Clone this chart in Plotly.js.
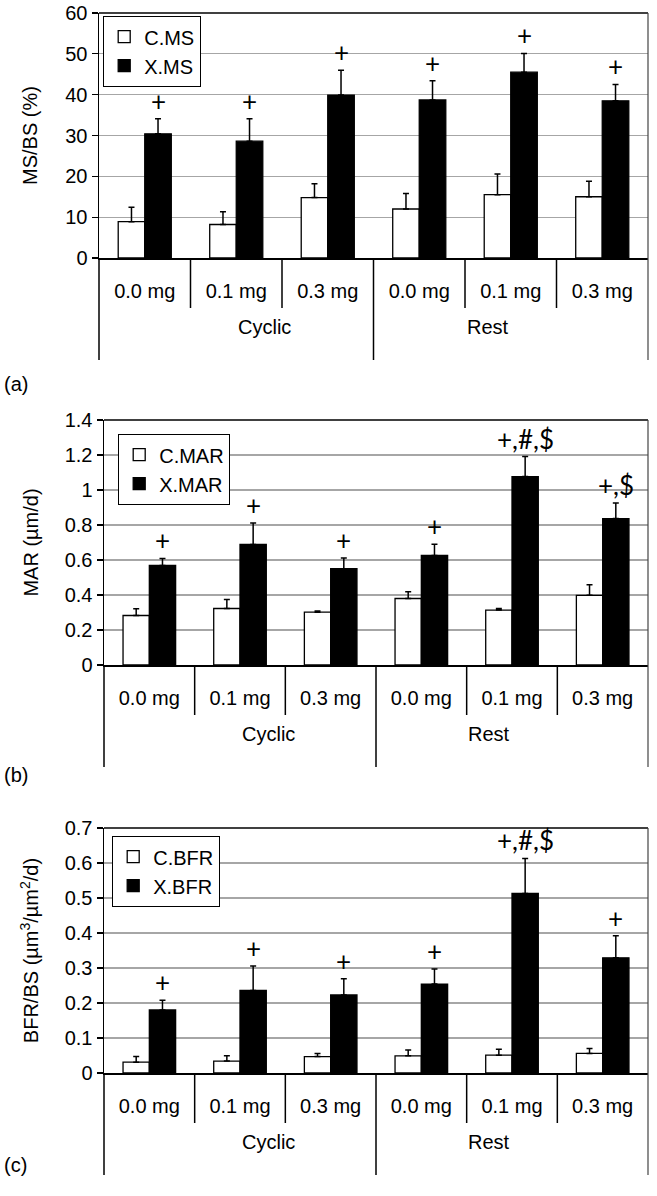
<!DOCTYPE html>
<html>
<head>
<meta charset="utf-8">
<script src="https://cdn.plot.ly/plotly-3.0.1.min.js"></script>
<style>html, body { margin: 0; padding: 0; background: #fff; }</style>
</head>
<body>
<div id="chart" style="width:657px;height:1196px;"></div>
<script>
var doses = ['0.0 mg', '0.1 mg', '0.3 mg', '0.0 mg', '0.1 mg', '0.3 mg'];
var groups = ['Cyclic', 'Rest'];

// (a) mineralizing surface
var msC = [8.9, 8.2, 14.8, 12.0, 15.5, 15.0];
var msCErr = [3.5, 3.1, 3.4, 3.8, 5.1, 3.8];
var msX = [30.4, 28.6, 39.9, 38.7, 45.5, 38.5];
var msXErr = [3.7, 5.5, 6.1, 4.7, 4.6, 4.0];
var msSig = ['+', '+', '+', '+', '+', '+'];

// (b) mineral apposition rate
var marC = [0.283, 0.323, 0.302, 0.380, 0.314, 0.398];
var marCErr = [0.038, 0.052, 0.006, 0.038, 0.009, 0.060];
var marX = [0.569, 0.689, 0.550, 0.626, 1.077, 0.837];
var marXErr = [0.040, 0.123, 0.061, 0.064, 0.114, 0.089];
var marSig = ['+', '+', '+', '+', '+,#,$', '+,$'];

// (c) bone formation rate
var bfrC = [0.031, 0.034, 0.047, 0.049, 0.051, 0.056];
var bfrCErr = [0.016, 0.015, 0.009, 0.017, 0.017, 0.014];
var bfrX = [0.180, 0.236, 0.223, 0.254, 0.513, 0.329];
var bfrXErr = [0.028, 0.070, 0.046, 0.043, 0.100, 0.063];
var bfrSig = ['+', '+', '+', '+', '+,#,$', '+'];

var W = 657, H = 1196;
var FONT = 'Liberation Sans, Arial, sans-serif';
var FS = 20;
var bargap = 0.42;
var xs = doses.map(function (d, i) { return i; });

var panels = [
  {tag: '(a)', names: ['C.MS', 'X.MS'], c: msC, ce: msCErr, x: msX, xe: msXErr, sig: msSig,
   ytitle: 'MS/BS (%)', range: [0, 60], dtick: 10, left: 99, top: 13, bottom: 258, legX: 103, legY: 16, tagY: 371, standoff: 22},
  {tag: '(b)', names: ['C.MAR', 'X.MAR'], c: marC, ce: marCErr, x: marX, xe: marXErr, sig: marSig,
   ytitle: 'MAR (\u00b5m/d)', range: [0, 1.4], dtick: 0.2, left: 104, top: 420, bottom: 665, legX: 118, legY: 434, tagY: 775, standoff: 20},
  {tag: '(c)', names: ['C.BFR', 'X.BFR'], c: bfrC, ce: bfrCErr, x: bfrX, xe: bfrXErr, sig: bfrSig,
   ytitle: 'BFR/BS (\u00b5m<sup>3</sup>/\u00b5m<sup>2</sup>/d)', range: [0, 0.7], dtick: 0.1, left: 104, top: 828, bottom: 1073, legX: 112, legY: 836, tagY: 1178, standoff: 20}
];

var data = [];
var layout = {
  width: W, height: H,
  margin: {l: 0, r: 0, t: 0, b: 0},
  paper_bgcolor: '#fff', plot_bgcolor: '#fff',
  barmode: 'group', bargap: bargap, bargroupgap: 0,
  font: {family: FONT, size: FS, color: '#000'},
  shapes: [], annotations: []
};

panels.forEach(function (p, k) {
  var n = k === 0 ? '' : String(k + 1);
  var xa = 'x' + n, ya = 'y' + n;
  var leg = 'legend' + n;
  var plotH = p.bottom - p.top;
  var zeros = p.c.map(function () { return 0; });

  data.push({
    type: 'bar', x: xs, y: p.c, name: p.names[0], xaxis: xa, yaxis: ya, legend: leg,
    marker: {color: '#fff', line: {color: '#000', width: 1.3}},
    error_y: {type: 'data', symmetric: false, array: p.ce, arrayminus: zeros, color: '#000', thickness: 1.5, width: 3},
    hoverinfo: 'none'
  });
  data.push({
    type: 'bar', x: xs, y: p.x, name: p.names[1], xaxis: xa, yaxis: ya, legend: leg,
    marker: {color: '#000', line: {color: '#000', width: 1.3}},
    error_y: {type: 'data', symmetric: false, array: p.xe, arrayminus: zeros, color: '#000', thickness: 1.5, width: 3},
    hoverinfo: 'none'
  });

  layout['xaxis' + n] = {
    domain: [p.left / W, 648 / W], anchor: ya, range: [-0.5, 5.5],
    tickvals: xs, ticktext: doses, ticks: '', ticklabelstandoff: 14,
    showgrid: false, zeroline: false, showline: true, linecolor: '#000', linewidth: 1.5,
    tickfont: {family: FONT, size: FS, color: '#000'}, fixedrange: true
  };
  layout['yaxis' + n] = {
    domain: [1 - p.bottom / H, 1 - p.top / H], anchor: xa, range: p.range, dtick: p.dtick,
    ticks: 'outside', ticklen: 6, tickcolor: '#000', tickwidth: 1.2,
    showgrid: true, gridcolor: '#a6a6a6', gridwidth: 1.2, zeroline: false,
    showline: true, linecolor: '#000', linewidth: 1.5,
    tickfont: {family: FONT, size: FS, color: '#000'},
    title: {text: p.ytitle, font: {family: FONT, size: FS, color: '#000'}, standoff: p.standoff},
    fixedrange: true
  };
  layout[leg] = {
    x: p.legX / W, y: 1 - p.legY / H, xanchor: 'left', yanchor: 'top',
    bgcolor: '#fff', bordercolor: '#000', borderwidth: 1.2,
    font: {family: FONT, size: FS, color: '#000'}, traceorder: 'normal'
  };

  var xd = xa + ' domain', yd = ya + ' domain';
  var px = function (v) { return v / plotH; };
  // plot frame: top border and right border running down through the table
  layout.shapes.push({type: 'line', xref: xd, yref: yd, x0: 0, x1: 1, y0: 1, y1: 1, line: {color: '#000', width: 1.5}});
  layout.shapes.push({type: 'line', xref: xd, yref: yd, x0: 1, x1: 1, y0: 1, y1: -px(102), line: {color: '#444', width: 1.2}});
  // left axis extension
  layout.shapes.push({type: 'line', xref: xd, yref: yd, x0: 0, x1: 0, y0: 0, y1: -px(102), line: {color: '#000', width: 1.5}});
  // separators between doses, and the long one between groups
  for (var i = 1; i < doses.length; i++) {
    var longSep = i === doses.length / 2;
    layout.shapes.push({type: 'line', xref: xd, yref: yd, x0: i / doses.length, x1: i / doses.length,
      y0: 0, y1: -px(longSep ? 102 : 50), line: {color: '#000', width: 1.5}});
  }
  groups.forEach(function (g, j) {
    layout.annotations.push({xref: xd, yref: yd, x: (j + 0.5) / groups.length, y: -px(82),
      text: g, showarrow: false, font: {family: FONT, size: FS, color: '#000'}});
  });
  // significance marks above X bars
  var off = (1 - bargap) / 4;
  p.sig.forEach(function (s, i) {
    layout.annotations.push({xref: xa, yref: ya, x: i + off, y: p.x[i] + p.xe[i],
      yanchor: 'bottom', yshift: 0, text: s, showarrow: false,
      font: {family: 'Lato, Open Sans, sans-serif', size: 26, color: '#000'}});
  });
  layout.annotations.push({xref: 'paper', yref: 'paper', x: 2 / W, y: 1 - p.tagY / H,
    xanchor: 'left', text: p.tag, showarrow: false, font: {family: FONT, size: FS, color: '#000'}});
});

Plotly.newPlot('chart', data, layout, {displayModeBar: false, staticPlot: true});
</script>
</body>
</html>
